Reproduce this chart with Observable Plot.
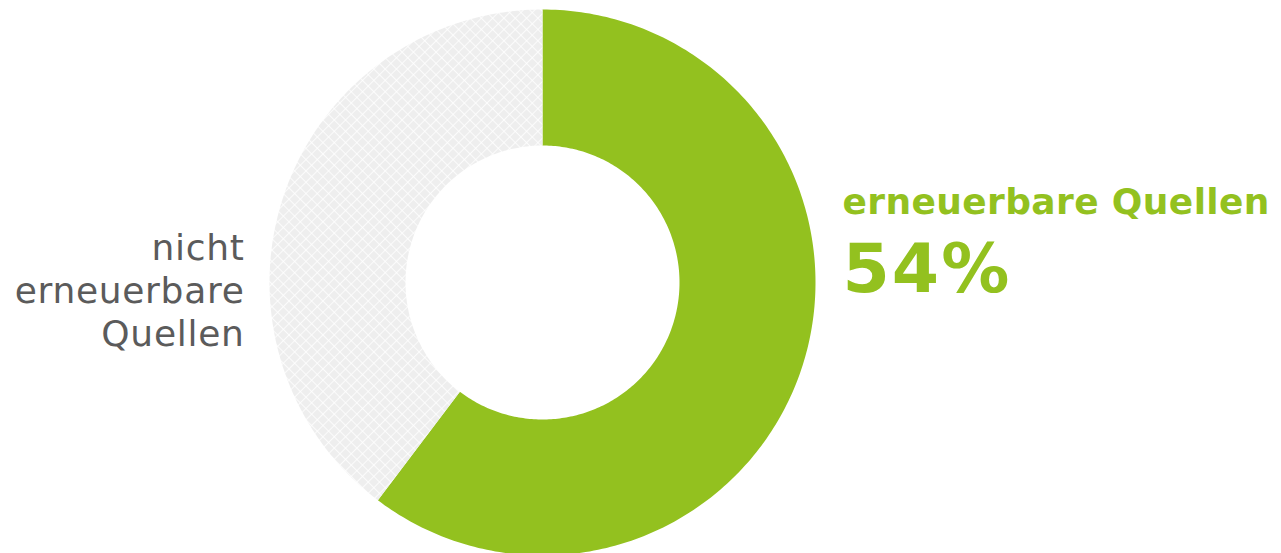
<!DOCTYPE html>
<html>
<head>
<meta charset="utf-8">
<script src="https://cdn.jsdelivr.net/npm/d3@7"></script>
<script src="https://cdn.jsdelivr.net/npm/@observablehq/plot@0.6"></script>
<style>
  html, body { margin: 0; padding: 0; background: #ffffff; overflow: hidden; }
  #chart svg { display: block; overflow: visible; }
</style>
</head>
<body>
<div id="chart"></div>
<script>
// ---- data ----
const categories = ["erneuerbare Quellen", "nicht erneuerbare Quellen"];
const arcShares = [60.3, 39.7];           // share of the ring as drawn
const labelTexts = ["erneuerbare Quellen", "nicht\nerneuerbare\nQuellen"];
const valueLabels = ["54%"];
const colors = ["#93c11f", "url(#hatch)"];

// ---- geometry ----
const W = 1281, H = 553;
const cx = 542, cy = 282, rOuter = 273, rInner = 137;

const pie = d3.pie().sort(null).value(d => d.share).startAngle(0).endAngle(2 * Math.PI);
const slices = pie(categories.map((c, i) => ({category: c, share: arcShares[i]})));

function ringPoints(s) {
  const n = 240, pts = [];
  for (let k = 0; k <= n; k++) {
    const a = s.startAngle + (s.endAngle - s.startAngle) * k / n;
    pts.push({category: s.data.category, px: cx + rOuter * Math.sin(a), py: cy - rOuter * Math.cos(a)});
  }
  for (let k = n; k >= 0; k--) {
    const a = s.startAngle + (s.endAngle - s.startAngle) * k / n;
    pts.push({category: s.data.category, px: cx + rInner * Math.sin(a), py: cy - rInner * Math.cos(a)});
  }
  pts.push(pts[0]);
  return pts;
}

const font = "'DejaVu Sans', Verdana, sans-serif";

const marks = slices.map((s, i) =>
  Plot.line(ringPoints(s), {x: "px", y: "py", fill: colors[i], stroke: "none", curve: "linear"})
);

marks.push(
  Plot.text([labelTexts[1]], {x: () => 244, y: () => 288.5, text: d => d, textAnchor: "end",
    lineAnchor: "middle", lineHeight: 1.2, fontSize: 36, fontFamily: font, fill: "#5b5b5b",
    className: "lbl-left"}),
  Plot.text([labelTexts[0]], {x: () => 842, y: () => 201.5, text: d => d, textAnchor: "start",
    lineAnchor: "middle", fontSize: 36, fontWeight: "bold", fontFamily: font, fill: "#93c11f",
    className: "lbl-title"}),
  Plot.text(valueLabels, {x: () => 842, y: () => 269.5, text: d => d, textAnchor: "start",
    lineAnchor: "middle", fontSize: 68, fontWeight: "bold", fontFamily: font, fill: "#93c11f",
    className: "lbl-value"})
);

const chart = Plot.plot({
  width: W, height: H,
  margin: 0,
  x: {domain: [0, W], range: [0, W], axis: null},
  y: {domain: [0, H], range: [0, H], axis: null},
  style: {background: "#ffffff", overflow: "visible"},
  marks
});

// slightly wider letterforms to match the reference typeface
d3.select(chart).selectAll("g.lbl-left text").style("letter-spacing", "0.7px");
d3.select(chart).selectAll("g.lbl-title text").style("letter-spacing", "0.38px");
d3.select(chart).selectAll("g.lbl-value text").style("letter-spacing", "2px");

// crosshatch pattern for the grey slice
const defs = d3.create("svg:defs");
const pat = defs.append("pattern").attr("id", "hatch").attr("patternUnits", "userSpaceOnUse")
  .attr("width", 8).attr("height", 8).attr("patternTransform", "rotate(45)");
pat.append("rect").attr("width", 8).attr("height", 8).attr("fill", "#eeeeee");
pat.append("line").attr("x1", 0).attr("y1", 0).attr("x2", 8).attr("y2", 0).attr("stroke", "#ffffff").attr("stroke-width", 1.6);
pat.append("line").attr("x1", 0).attr("y1", 0).attr("x2", 0).attr("y2", 8).attr("stroke", "#ffffff").attr("stroke-width", 1.6);
chart.insertBefore(defs.node(), chart.firstChild);

document.getElementById("chart").appendChild(chart);
</script>
</body>
</html>
